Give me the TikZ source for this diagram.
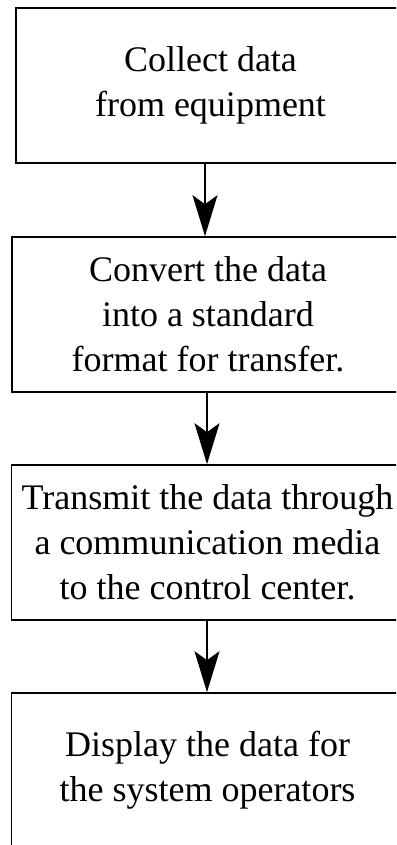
\documentclass[tikz,border=0pt]{standalone}
\usepackage{fontspec}
\setmainfont{Liberation Serif}
\usetikzlibrary{arrows.meta}
\begin{document}
\begin{tikzpicture}[x=1pt,y=1pt,
  stepbox/.style={draw=black, line width=1.6pt, rectangle, inner sep=0pt,
    minimum width=392pt, minimum height=155pt, align=center,
    font=\fontsize{36}{45}\selectfont},
  flow/.style={draw=black, line width=1.6pt,
    -{Stealth[length=41pt, width=25pt, inset=9pt]}}]
  \clip (0,0) rectangle (396,-845);
  \fill[white] (0,0) rectangle (396,-845);
  \node[stepbox, minimum width=389pt] (collect) at (210.5,-85.5)
    {Collect data\\from equipment};
  \node[stepbox] (convert) at (208,-314.5)
    {Convert the data\\into a standard\\format for transfer.};
  \node[stepbox] (transmit) at (207.5,-542.5)
    {Transmit the data through\\a communication media\\to the control center.};
  \node[stepbox] (display) at (207.5,-770.5)
    {Display the data for\\the system operators};
  \draw[flow] ([xshift=-5.5pt]collect.south) -- ([xshift=-5.5pt]collect.south |- convert.north);
  \draw[flow] ([xshift=-1pt]convert.south) -- ([xshift=-1pt]convert.south |- transmit.north);
  \draw[flow] ([xshift=-0.5pt]transmit.south) -- ([xshift=-0.5pt]transmit.south |- display.north);
\end{tikzpicture}
\end{document}
